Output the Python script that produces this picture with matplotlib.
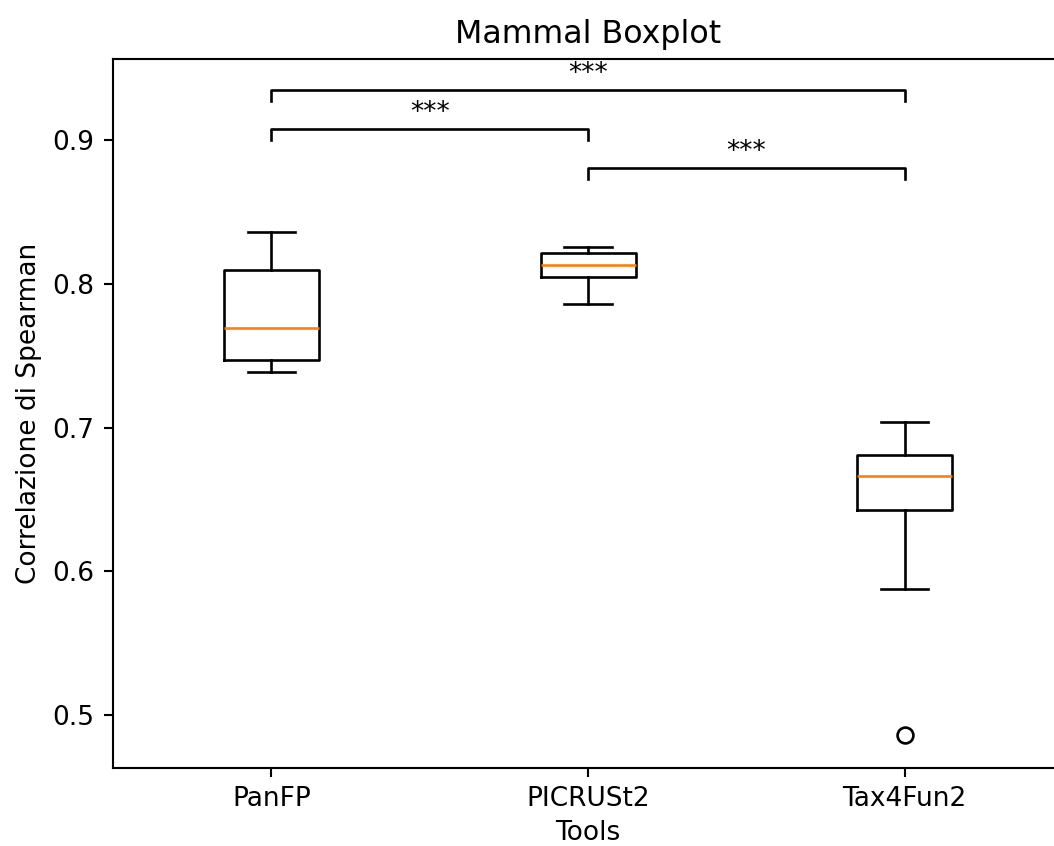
import matplotlib
matplotlib.use("Agg")
import matplotlib.pyplot as plt

# Summary statistics of the Spearman correlations for each tool
tools = ["PanFP", "PICRUSt2", "Tax4Fun2"]
whisker_low = [0.7386, 0.7860, 0.5877]
q1 = [0.7470, 0.8047, 0.6426]
median = [0.7690, 0.8130, 0.6663]
q3 = [0.8096, 0.8214, 0.6810]
whisker_high = [0.8360, 0.8256, 0.7038]
outliers = [[], [], [0.4861]]

# Significance brackets: (left tool index, right tool index, bar height, label)
pair_left = [1, 2, 1]
pair_right = [2, 3, 3]
bar_height = [0.9077, 0.8805, 0.9348]
bar_label = ["***", "***", "***"]
bar_drop = 0.0075

stats = []
for i, name in enumerate(tools):
    stats.append({
        "label": name,
        "whislo": whisker_low[i],
        "q1": q1[i],
        "med": median[i],
        "q3": q3[i],
        "whishi": whisker_high[i],
        "fliers": outliers[i],
    })

W, H, DPI = 1054, 846, 190
fig = plt.figure(figsize=(W / DPI, H / DPI), dpi=DPI)
ax = fig.add_axes([113 / W, 1 - 768 / H, (1063 - 113) / W, (768 - 59) / H])

ax.bxp(stats, positions=[1, 2, 3])
ax.set_xlim(0.5, 3.5)
ax.set_ylim(0.4631, 0.9564)

for x1, x2, y, lab in zip(pair_left, pair_right, bar_height, bar_label):
    ax.plot([x1, x1, x2, x2], [y - bar_drop, y, y, y - bar_drop], color="black", lw=1)
    ax.text((x1 + x2) / 2, y + 0.002, lab, ha="center", va="bottom", color="black")

ax.set_title("Mammal Boxplot")
ax.set_xlabel("Tools", labelpad=3)
ax.set_ylabel("Correlazione di Spearman")

fig.savefig("out.png", dpi=DPI)
